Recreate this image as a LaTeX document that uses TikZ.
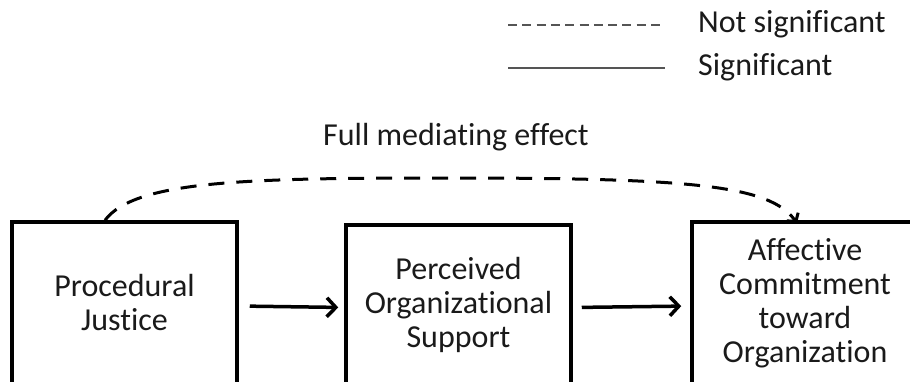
\documentclass[tikz,border=0pt]{standalone}
\usepackage{fontspec}
\setmainfont{Carlito}[Ligatures={NoCommon}]
\usetikzlibrary{arrows.meta, positioning}
\definecolor{legendgray}{HTML}{555555}
\definecolor{textdark}{HTML}{1a1a1a}

\begin{document}
\begin{tikzpicture}[x=1pt, y=-1pt,
    box/.style={draw, line width=3.5pt, inner sep=0pt, align=center, text=textdark,
        font=\fontsize{32}{34}\selectfont},
    arrow/.style={line width=3.5pt, -{Straight Barb[length=9pt, width=19pt, line width=3.5pt]}},
    label/.style={text=textdark, font=\fontsize{32}{34}\selectfont, inner sep=0pt}]
    \useasboundingbox (0,0) rectangle (910,381);
    \clip (0,0) rectangle (910,381);

    % legend
    \coordinate (nsa) at (508,25);
    \coordinate (nsb) at (665,25);
    \coordinate (sa) at (508,68);
    \coordinate (sb) at (665,68);
    \draw[legendgray, line width=2.5pt, dash pattern=on 9pt off 5.3pt] (nsa) -- (nsb);
    \draw[legendgray, line width=2.5pt] (sa) -- (sb);
    \node[label, anchor=base west] (nslabel) at (698,32) {Not significant};
    \node[label, anchor=base west] (slabel) at (698,75) {Significant};

    % boxes
    \node[box, minimum width=225pt, minimum height=162pt] (pj) at (124.5,303) {Procedural\\Justice};
    \node[box, minimum width=225pt, minimum height=159pt] (pos) at (458.5,304.5) {Perceived\\Organizational\\Support};
    \node[box, minimum width=226pt, minimum height=162pt] (ac) at (805,303) {Affective\\Commitment\\toward\\Organization};

    \draw[arrow, shorten <=11pt, shorten >=6pt] ([yshift=-3pt]pj.east) -- ([yshift=-3pt]pos.west);
    \draw[arrow, shorten <=9pt, shorten >=9pt] ([yshift=-3pt]pos.east) -- ([yshift=-3pt]ac.west);

    % mediating path
    \node[label, anchor=base] (fme) at (456,145) {Full mediating effect};
    \coordinate (start) at (pj.north -| 105,0);
    \coordinate (peak) at (450,178);
    \coordinate (end) at ([yshift=-3pt]ac.north -| 797,0);
    \draw[line width=3pt, dash pattern=on 16pt off 12pt,
        -{Straight Barb[length=6pt, width=14pt, line width=3pt]}]
        (start) .. controls (135,180) and (250,178) .. (peak)
        .. controls (690,178) and (770,185) .. (end);
\end{tikzpicture}
\end{document}
